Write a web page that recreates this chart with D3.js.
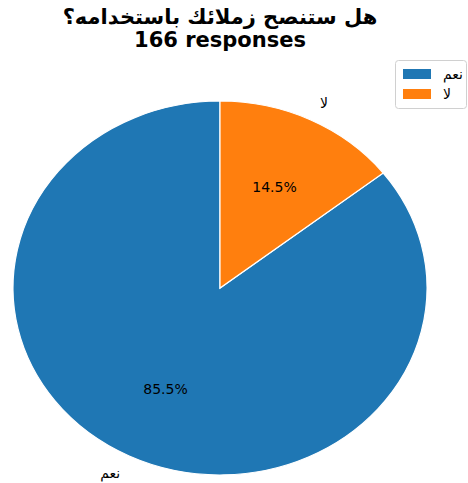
<!DOCTYPE html>
<html>
<head>
<meta charset="utf-8">
<script src="https://d3js.org/d3.v7.min.js"></script>
<style>
  body { margin: 0; background: #fff; }
  text { font-family: "DejaVu Sans", sans-serif; }
</style>
</head>
<body>
<div id="chart"></div>
<script>
var svgWidth = 468;
var svgHeight = 483;

// data
var categories = ["نعم", "لا"];
var counts = [142, 24];
var colors = ["#1f77b4", "#ff7f0e"];
var titleLines = ["هل ستنصح زملائك باستخدامه؟", "166 responses"];

var cx = 220, cy = 288;
var rx = 207, ry = 187;

var svg = d3.select("#chart")
  .append("svg")
  .attr("width", svgWidth)
  .attr("height", svgHeight);

var total = d3.sum(counts);
var data = categories.map((c, i) => ({ label: c, value: counts[i], color: colors[i] }));

// first slice from 12 o'clock, counter-clockwise
var pie = d3.pie()
  .value(d => d.value)
  .sort(null)
  .startAngle(0)
  .endAngle(-2 * Math.PI);

var arcs = pie(data);

var arc = d3.arc()
  .innerRadius(0)
  .outerRadius(ry);

var pieGroup = svg.append("g")
  .attr("transform", `translate(${cx}, ${cy}) scale(${rx / ry}, 1)`);

pieGroup.selectAll("path")
  .data(arcs)
  .enter()
  .append("path")
  .attr("d", arc)
  .attr("fill", d => d.data.color)
  .attr("stroke", "#fff")
  .attr("stroke-width", 1.2)
  .attr("vector-effect", "non-scaling-stroke");

function pos(d, k) {
  var a = (d.startAngle + d.endAngle) / 2;
  return [cx + Math.sin(a) * rx * k, cy - Math.cos(a) * ry * k];
}

// category labels outside
svg.selectAll(".lbl")
  .data(arcs)
  .enter()
  .append("text")
  .attr("class", "lbl")
  .attr("direction", "ltr")
  .attr("x", d => pos(d, 1.1)[0])
  .attr("y", d => pos(d, 1.1)[1])
  .attr("dy", "0.35em")
  .attr("text-anchor", d => pos(d, 1.1)[0] > cx ? "start" : "end")
  .attr("font-size", "14px")
  .text(d => d.data.label);

// percentage labels
svg.selectAll(".pct")
  .data(arcs)
  .enter()
  .append("text")
  .attr("class", "pct")
  .attr("x", d => pos(d, 0.6)[0])
  .attr("y", d => pos(d, 0.6)[1])
  .attr("dy", "0.35em")
  .attr("text-anchor", "middle")
  .attr("font-size", "14px")
  .text(d => (d.data.value / total * 100).toFixed(1) + "%");

// title
svg.selectAll(".title")
  .data(titleLines)
  .enter()
  .append("text")
  .attr("class", "title")
  .attr("x", cx)
  .attr("y", (d, i) => 24 + i * 23)
  .attr("text-anchor", "middle")
  .attr("font-size", "21px")
  .attr("font-weight", "bold")
  .text(d => d);

// legend
var legend = svg.append("g")
  .attr("transform", "translate(395, 60)");

legend.append("rect")
  .attr("x", 0.5)
  .attr("y", 0.5)
  .attr("width", 71)
  .attr("height", 48)
  .attr("rx", 3)
  .attr("fill", "#fff")
  .attr("fill-opacity", 0.8)
  .attr("stroke", "#d0d0d0");

var items = legend.selectAll(".item")
  .data(data)
  .enter()
  .append("g")
  .attr("transform", (d, i) => `translate(8, ${14 + i * 20})`);

items.append("rect")
  .attr("x", 0)
  .attr("y", -5)
  .attr("width", 28)
  .attr("height", 10)
  .attr("fill", d => d.color);

items.append("text")
  .attr("x", 40)
  .attr("y", 0)
  .attr("dy", "0.35em")
  .attr("direction", "ltr")
  .attr("font-size", "14px")
  .text(d => d.label);
</script>
</body>
</html>
